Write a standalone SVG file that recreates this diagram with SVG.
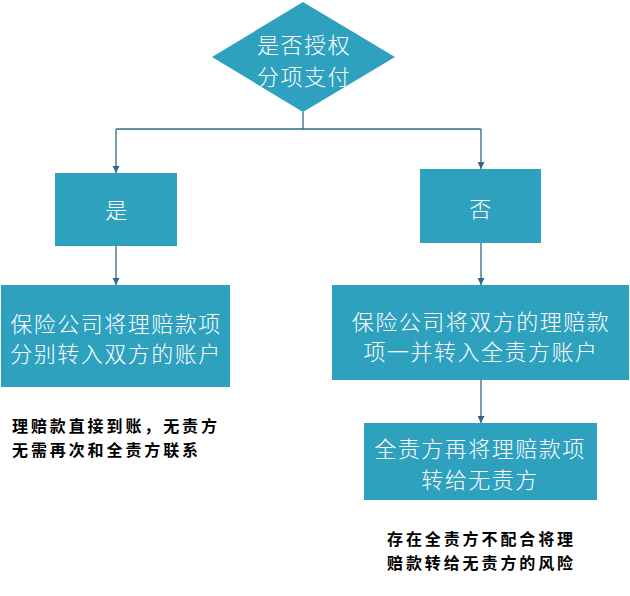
<svg xmlns="http://www.w3.org/2000/svg" width="630" height="596" viewBox="0 0 630 596">
<defs>
<marker id="arr" viewBox="0 0 10 10" refX="10" refY="5" markerWidth="7" markerHeight="7" markerUnits="userSpaceOnUse" orient="auto">
<path d="M0,0 L10,5 L0,10 z" fill="#2E6A86"/>
</marker>
<style>
.box{fill:#2EA1BF;}
.t{fill:#FFFFFF;font-family:"Noto Sans CJK SC","Microsoft YaHei",sans-serif;font-size:22px;font-weight:300;text-anchor:middle;dominant-baseline:central;letter-spacing:1.5px;}
.n{fill:#000000;font-family:"Noto Sans CJK SC",sans-serif;font-size:16px;font-weight:bold;dominant-baseline:central;letter-spacing:2.9px;}
.c{fill:none;stroke:#2E6A86;stroke-width:1.3;}
</style>
</defs>
<rect width="630" height="596" fill="#FFFFFF"/>
<g id="connectors">
<path class="c" d="M303,112 V129"/>
<path class="c" d="M116,129 H481"/>
<path class="c" d="M116,129 V173" marker-end="url(#arr)"/>
<path class="c" d="M481,129 V169" marker-end="url(#arr)"/>
<path class="c" d="M116,246 V285" marker-end="url(#arr)"/>
<path class="c" d="M481,243 V285" marker-end="url(#arr)"/>
<path class="c" d="M481,380 V423" marker-end="url(#arr)"/>
</g>
<g id="decision">
<polygon class="box" points="303,2 395,57 303,112 212,57"/>
<text class="t" x="304" y="43">是否授权</text>
<text class="t" x="304" y="75">分项支付</text>
</g>
<g id="yes">
<rect class="box" x="55" y="173" width="122" height="73"/>
<text class="t" x="117" y="208">是</text>
</g>
<g id="no">
<rect class="box" x="420" y="169" width="121" height="74"/>
<text class="t" x="481" y="207">否</text>
</g>
<g id="yes-action">
<rect class="box" x="1" y="285" width="229" height="102"/>
<text class="t" x="116" y="322">保险公司将理赔款项</text>
<text class="t" x="116" y="352">分别转入双方的账户</text>
</g>
<g id="no-action">
<rect class="box" x="332" y="285" width="297" height="95"/>
<text class="t" x="481" y="320">保险公司将双方的理赔款</text>
<text class="t" x="481" y="350">项一并转入全责方账户</text>
</g>
<g id="no-action2">
<rect class="box" x="364" y="423" width="233" height="77"/>
<text class="t" x="480" y="447">全责方再将理赔款项</text>
<text class="t" x="480" y="478">转给无责方</text>
</g>
<g id="yes-note">
<text class="n" x="12" y="425">理赔款直接到账，无责方</text>
<text class="n" x="12" y="449">无需再次和全责方联系</text>
</g>
<g id="no-note">
<text class="n" x="387" y="538">存在全责方不配合将理</text>
<text class="n" x="387" y="562">赔款转给无责方的风险</text>
</g>
</svg>
